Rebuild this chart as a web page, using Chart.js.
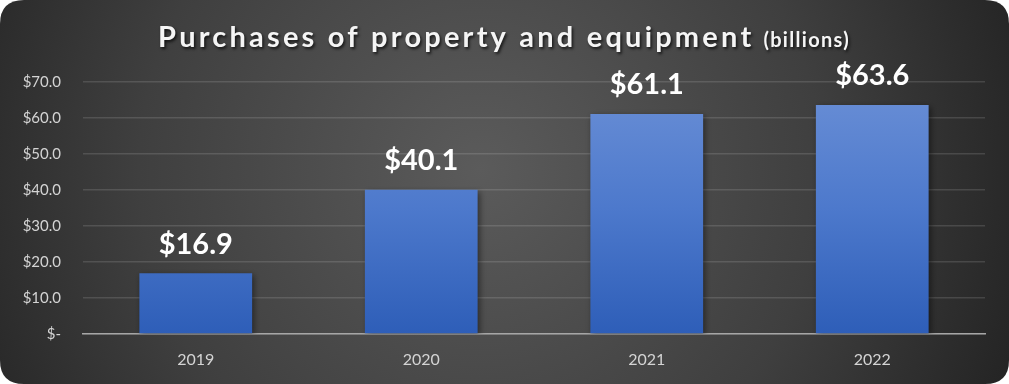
<!DOCTYPE html>
<html><head><meta charset="utf-8">
<script src="https://cdn.jsdelivr.net/npm/chart.js@4.4.0/dist/chart.umd.min.js"></script>
<style>html,body{margin:0;padding:0;background:#fff;}#wrap{width:1009px;height:384px;}</style>
</head><body><div id="wrap"><canvas id="c" width="1009" height="384"></canvas></div>
<script>
const categories = ["2019", "2020", "2021", "2022"];
const purchases = [16.9, 40.1, 61.1, 63.6];
const yTicks = [0, 10, 20, 30, 40, 50, 60, 70];
const titleMain = "Purchases of property and equipment";
const titleUnit = "(billions)";

const bgPlugin = {
  id: 'bg',
  beforeDraw(chart) {
    const ctx = chart.ctx, w = chart.width, h = chart.height, r = 24;
    ctx.save();
    ctx.fillStyle = '#ffffff';
    ctx.fillRect(0, 0, w, h);
    const g = ctx.createRadialGradient(480, 170, 0, 480, 170, 620);
    g.addColorStop(0, '#5b5b5b');
    g.addColorStop(0.55, '#3f3f3f');
    g.addColorStop(1, '#1e1e1e');
    ctx.beginPath();
    ctx.moveTo(r, 0); ctx.lineTo(w - r, 0); ctx.quadraticCurveTo(w, 0, w, r);
    ctx.lineTo(w, h - r); ctx.quadraticCurveTo(w, h, w - r, h);
    ctx.lineTo(r, h); ctx.quadraticCurveTo(0, h, 0, h - r);
    ctx.lineTo(0, r); ctx.quadraticCurveTo(0, 0, r, 0);
    ctx.closePath();
    ctx.fillStyle = g;
    ctx.fill();
    ctx.restore();
  }
};

const titlePlugin = {
  id: 'mytitle',
  afterDraw(chart) {
    const ctx = chart.ctx;
    ctx.save();
    ctx.textBaseline = 'alphabetic';
    ctx.shadowColor = 'rgba(0,0,0,0.7)';
    ctx.shadowOffsetX = 1.5; ctx.shadowOffsetY = 2; ctx.shadowBlur = 3;
    ctx.fillStyle = '#f5f5f5';
    const mainFont = 'bold 29px Lato', mainSp = '3.2px';
    const unitFont = 'bold 20px Lato', unitSp = '1.3px';
    ctx.font = mainFont; ctx.letterSpacing = mainSp;
    const w1 = ctx.measureText(titleMain).width;
    ctx.font = unitFont; ctx.letterSpacing = unitSp;
    const w2 = ctx.measureText(titleUnit).width;
    const gap = 9;
    let x = 504 - (w1 + gap + w2) / 2;
    ctx.font = mainFont; ctx.letterSpacing = mainSp;
    ctx.fillText(titleMain, x, 47);
    ctx.font = unitFont; ctx.letterSpacing = unitSp;
    ctx.fillText(titleUnit, x + w1 + gap, 47);
    ctx.restore();
  }
};

const labelPlugin = {
  id: 'vlabels',
  afterDatasetsDraw(chart) {
    const ctx = chart.ctx;
    const meta = chart.getDatasetMeta(0);
    ctx.save();
    ctx.fillStyle = '#ffffff';
    ctx.font = 'bold 29px Lato';
    ctx.textAlign = 'center';
    ctx.textBaseline = 'middle';
    meta.data.forEach((bar, i) => {
      ctx.fillText('$' + purchases[i].toFixed(1), bar.x, bar.y - 29);
    });
    ctx.restore();
  }
};

const shadowPlugin = {
  id: 'barshadow',
  beforeDatasetsDraw(chart) {
    const ctx = chart.ctx;
    ctx.save();
    ctx.shadowColor = 'rgba(0,0,0,0.45)';
    ctx.shadowBlur = 6; ctx.shadowOffsetX = 2; ctx.shadowOffsetY = 2;
  },
  afterDatasetsDraw(chart) { chart.ctx.restore(); }
};

function barGradient(context) {
  const chart = context.chart;
  const a = chart.chartArea;
  if (!a) return '#4472c4';
  const y0 = chart.scales.y.getPixelForValue(70);
  const g = chart.ctx.createLinearGradient(0, y0, 0, a.bottom);
  g.addColorStop(0, '#6a8fd6');
  g.addColorStop(0.5, '#4d79cc');
  g.addColorStop(1, '#2e5eb8');
  return g;
}

new Chart(document.getElementById('c'), {
  type: 'bar',
  data: {
    labels: categories,
    datasets: [{
      data: purchases,
      backgroundColor: barGradient,
      borderWidth: 0,
      categoryPercentage: 1.0,
      barPercentage: 0.5
    }]
  },
  options: {
    responsive: false,
    animation: false,
    devicePixelRatio: 1,
    layout: { padding: { top: 82, right: 24, left: 0, bottom: 0 } },
    plugins: { legend: { display: false }, title: { display: false }, tooltip: { enabled: false } },
    scales: {
      x: {
        grid: { display: false, drawTicks: false },
        border: { display: true, color: '#a6a6a6', width: 1.5 },
        ticks: { color: '#d4d4d4', font: { family: 'Lato', size: 16 }, padding: 16 },
        afterFit(s) { s.height = 50; }
      },
      y: {
        min: 0, max: 70,
        afterBuildTicks(s) { s.ticks = yTicks.map(v => ({ value: v })); },
        grid: { color: 'rgba(255,255,255,0.13)', lineWidth: 1.5, drawTicks: false },
        border: { display: false },
        ticks: {
          color: '#d4d4d4', font: { family: 'Lato', size: 15 }, padding: 22,
          callback: v => v === 0 ? '$-' : '$' + v.toFixed(1)
        },
        afterFit(s) { s.width = 83; }
      }
    }
  },
  plugins: [bgPlugin, shadowPlugin, labelPlugin, titlePlugin]
});
</script>
</body></html>
